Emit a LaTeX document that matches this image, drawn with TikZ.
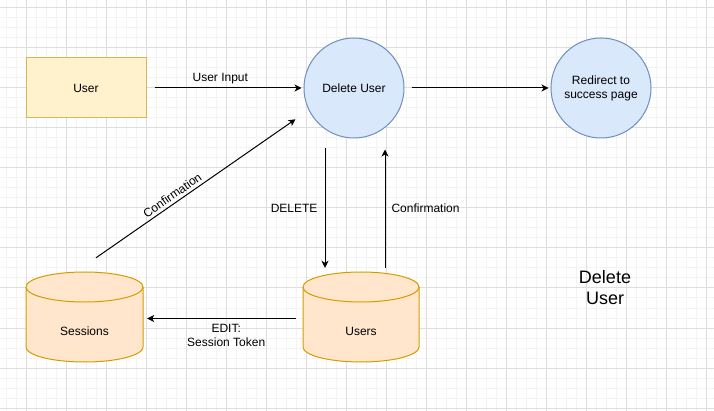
\documentclass[tikz,border=0pt]{standalone}
\usepackage{fontspec}
\setmainfont{Liberation Sans}
\usetikzlibrary{arrows.meta,calc}
\definecolor{ufill}{HTML}{FFF2CC}
\definecolor{ustroke}{HTML}{D6B656}
\definecolor{bfill}{HTML}{DAE8FC}
\definecolor{bstroke}{HTML}{6C8EBF}
\definecolor{ofill}{HTML}{FFE6CC}
\definecolor{ostroke}{HTML}{D79B00}
\definecolor{gmajor}{HTML}{DEDEDE}
\definecolor{gminor}{HTML}{F3F3F3}
\tikzset{
  userbox/.style={draw=ustroke, fill=ufill, line width=1pt, minimum width=120pt, minimum height=60pt, inner sep=0pt},
  proc/.style={circle, draw=bstroke, fill=bfill, line width=1pt, minimum size=100pt, inner sep=0pt, align=center},
  dbhold/.style={minimum width=117pt, minimum height=90pt, inner sep=0pt},
  cyl/.style={draw=ostroke, fill=ofill, line width=1pt},
  cylline/.style={draw=ostroke, line width=1pt},
  arr/.style={draw=black, line width=1pt, -{Stealth[length=7pt, width=7pt, inset=2pt]}},
  elabel/.style={text=black, inner sep=4pt, align=center},
  gridminor/.style={draw=gminor, line width=1pt},
  gridmajor/.style={draw=gmajor, line width=1pt}
}
\newcommand\cylshape[4]{% left, right, top, bottom
  \filldraw[cyl] (#1,#3+15) -- (#1,#4-15)
    arc[start angle=180, end angle=360, x radius={(#2-#1)/2*1pt}, y radius=15pt]
    -- (#2,#3+15)
    arc[start angle=0, end angle=180, x radius={(#2-#1)/2*1pt}, y radius=15pt] -- cycle;
  \draw[cylline] (#1,#3+15)
    arc[start angle=180, end angle=360, x radius={(#2-#1)/2*1pt}, y radius=15pt];
}
\begin{document}
\begin{tikzpicture}[x=1pt, y=-1pt, font=\fontsize{12}{14}\selectfont]
\useasboundingbox (0,0) rectangle (714,411);
\fill[white] (0,0) rectangle (714,411);
% grid
\foreach \gx in {6,16,...,714} \draw[gridminor] (\gx,0) -- (\gx,411);
\foreach \gy in {-2,8,...,411} \draw[gridminor] (0,\gy) -- (714,\gy);
\foreach \gx in {26,66,...,714} \draw[gridmajor] (\gx,0) -- (\gx,411);
\foreach \gy in {8,48,...,411} \draw[gridmajor] (0,\gy) -- (714,\gy);

% nodes
\node[userbox] (user) at (86,88) {User};
\node[proc] (del) at (354,88) {Delete User};
\node[proc] (redir) at (601,88) {Redirect to\\success page};

\cylshape{26}{143}{272}{362}
\node[dbhold] (sess) at (84.5,317) {};
\node (sesstext) at (84.5,331) {Sessions};

\cylshape{303}{419}{272}{362}
\node[dbhold, minimum width=116pt] (users) at (361,317) {};
\node (userstext) at (361,331) {Users};

\node[font=\fontsize{18}{21}\selectfont, align=center] (title) at (605,288) {Delete\\User};

% connectors
\draw[arr, shorten <=8pt, shorten >=2pt] (user.east) -- node[pos=0.47, above, elabel] {User Input} (del.west);
\draw[arr, shorten <=7pt, shorten >=2pt] (del.east) -- (redir.west);
\draw[arr, shorten >=16pt] ($(sess.north)+(11.5,-14)$) -- node[pos=0.38, sloped, above, elabel, inner sep=3pt] {Confirmation} (del.206);
\draw[arr] ([xshift=-29pt, yshift=-10pt]del.south) -- node[midway, left, elabel, inner sep=7pt] {DELETE} ([xshift=-36pt, yshift=4pt]users.north);
\draw[arr] ([xshift=24pt, yshift=4pt]users.north) -- node[midway, right, elabel, inner sep=6pt] {Confirmation} ([xshift=31pt, yshift=-11pt]del.south);
\draw[arr, shorten <=7pt, shorten >=4pt] ([yshift=-1.5pt]users.west) -- node[pos=0.48, below, elabel, inner sep=5pt] {EDIT:\\Session Token} ([yshift=-1.5pt]sess.east);
\end{tikzpicture}
\end{document}
